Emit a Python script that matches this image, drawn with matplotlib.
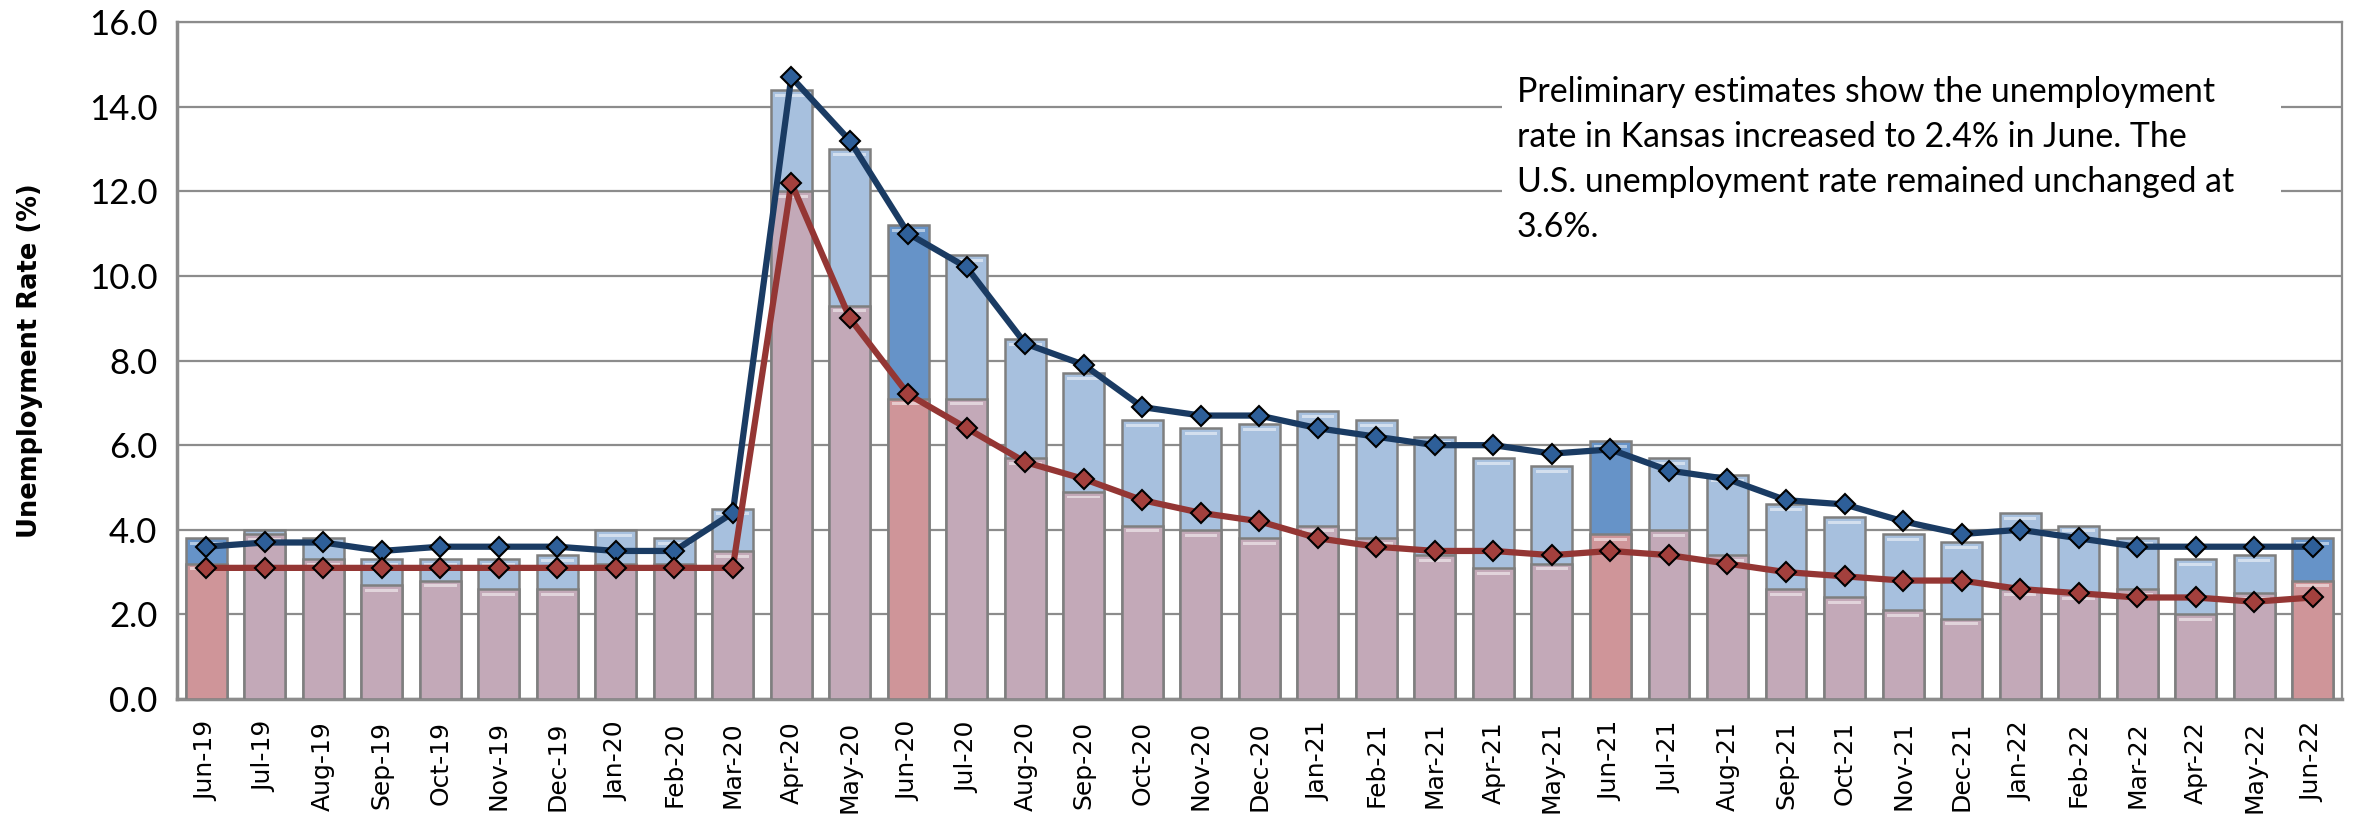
import numpy as np
import matplotlib
matplotlib.use('Agg')
import matplotlib.pyplot as plt
from matplotlib.patches import Rectangle

# monthly labels, Jun-19 .. Jun-22
months = ['Jun-19', 'Jul-19', 'Aug-19', 'Sep-19', 'Oct-19', 'Nov-19', 'Dec-19',
          'Jan-20', 'Feb-20', 'Mar-20', 'Apr-20', 'May-20', 'Jun-20', 'Jul-20',
          'Aug-20', 'Sep-20', 'Oct-20', 'Nov-20', 'Dec-20', 'Jan-21', 'Feb-21',
          'Mar-21', 'Apr-21', 'May-21', 'Jun-21', 'Jul-21', 'Aug-21', 'Sep-21',
          'Oct-21', 'Nov-21', 'Dec-21', 'Jan-22', 'Feb-22', 'Mar-22', 'Apr-22',
          'May-22', 'Jun-22']

# not seasonally adjusted (bars)
us_nsa = [3.8, 4.0, 3.8, 3.3, 3.3, 3.3, 3.4, 4.0, 3.8, 4.5, 14.4, 13.0, 11.2, 10.5,
          8.5, 7.7, 6.6, 6.4, 6.5, 6.8, 6.6, 6.2, 5.7, 5.5, 6.1, 5.7, 5.3, 4.6,
          4.3, 3.9, 3.7, 4.4, 4.1, 3.8, 3.3, 3.4, 3.8]
ks_nsa = [3.2, 3.9, 3.3, 2.7, 2.8, 2.6, 2.6, 3.2, 3.2, 3.5, 12.0, 9.3, 7.1, 7.1,
          5.7, 4.9, 4.1, 4.0, 3.8, 4.1, 3.8, 3.4, 3.1, 3.2, 3.9, 4.0, 3.4, 2.6,
          2.4, 2.1, 1.9, 2.6, 2.5, 2.6, 2.0, 2.5, 2.8]

# seasonally adjusted (lines)
us_sa = [3.6, 3.7, 3.7, 3.5, 3.6, 3.6, 3.6, 3.5, 3.5, 4.4, 14.7, 13.2, 11.0, 10.2,
         8.4, 7.9, 6.9, 6.7, 6.7, 6.4, 6.2, 6.0, 6.0, 5.8, 5.9, 5.4, 5.2, 4.7,
         4.6, 4.2, 3.9, 4.0, 3.8, 3.6, 3.6, 3.6, 3.6]
ks_sa = [3.1, 3.1, 3.1, 3.1, 3.1, 3.1, 3.1, 3.1, 3.1, 3.1, 12.2, 9.0, 7.2, 6.4,
         5.6, 5.2, 4.7, 4.4, 4.2, 3.8, 3.6, 3.5, 3.5, 3.4, 3.5, 3.4, 3.2, 3.0,
         2.9, 2.8, 2.8, 2.6, 2.5, 2.4, 2.4, 2.3, 2.4]

note = ("Preliminary estimates show the unemployment\n"
        "rate in Kansas increased to 2.4% in June. The\n"
        "U.S. unemployment rate remained unchanged at\n"
        "3.6%.")

x = np.arange(len(months))
june = np.array([m.startswith('Jun') for m in months])

us_col = np.where(june, '#6693c8', '#a7c0de')
ks_col = np.where(june, '#cf9599', '#c3a9b8')

fig = plt.figure(figsize=(23.56, 8.19), dpi=100)
ax = fig.add_axes([0.0751, 0.1465, 0.9189, 0.8265])

w = 0.7
ax.bar(x, us_nsa, width=w, color=us_col, edgecolor='#7f7f7f', linewidth=1.8, zorder=2)
ax.bar(x, ks_nsa, width=w, color=ks_col, edgecolor='#7f7f7f', linewidth=1.8, zorder=3)
# glossy strip just under each bar top
ax.bar(x, 0.07, bottom=np.array(us_nsa) - 0.16, width=w * 0.8, color='white',
       alpha=0.5, linewidth=0, zorder=2.5)
ax.bar(x, 0.07, bottom=np.array(ks_nsa) - 0.16, width=w * 0.8, color='white',
       alpha=0.5, linewidth=0, zorder=3.5)

ax.plot(x, us_sa, color='#1a3b63', lw=4.5, marker='D', ms=10,
        mfc='#2e5f99', mec='black', mew=1.5, zorder=5)
ax.plot(x, ks_sa, color='#943634', lw=4.5, marker='D', ms=10,
        mfc='#a3403d', mec='black', mew=1.5, zorder=6)

ax.set_xlim(-0.5, len(months) - 0.5)
ax.set_ylim(0, 16)
ax.set_yticks(np.arange(0, 16.1, 2))
ax.set_yticklabels([f'{v:.1f}' for v in np.arange(0, 16.1, 2)],
                   fontfamily='Lato', fontsize=25)
ax.set_xticks(x)
ax.set_xticklabels(months, rotation=90, fontsize=18)
ax.tick_params(axis='x', length=0, pad=16)
ax.tick_params(axis='y', length=0, pad=14)

ax.grid(axis='y', color='#8c8c8c', lw=1.6, zorder=0)
ax.set_axisbelow(True)
for s in ax.spines.values():
    s.set_color('#8c8c8c')
    s.set_linewidth(2.5)
ax.spines['top'].set_linewidth(1.6)
ax.spines['right'].set_linewidth(1.6)

ax.set_ylabel('Unemployment Rate (%)', fontsize=18.5, fontweight='bold')
ax.yaxis.set_label_coords(-0.062, 0.5)

# white note box over the gridlines
ax.add_patch(Rectangle((0.612, 0.645), 0.360, 0.325, transform=ax.transAxes,
                       facecolor='white', edgecolor='none', zorder=1))
ax.text(0.619, 0.92, note, transform=ax.transAxes, fontfamily='Lato',
        fontsize=24.4, va='top', ha='left', linespacing=1.5, zorder=7)

fig.savefig('out.png', dpi=100)
